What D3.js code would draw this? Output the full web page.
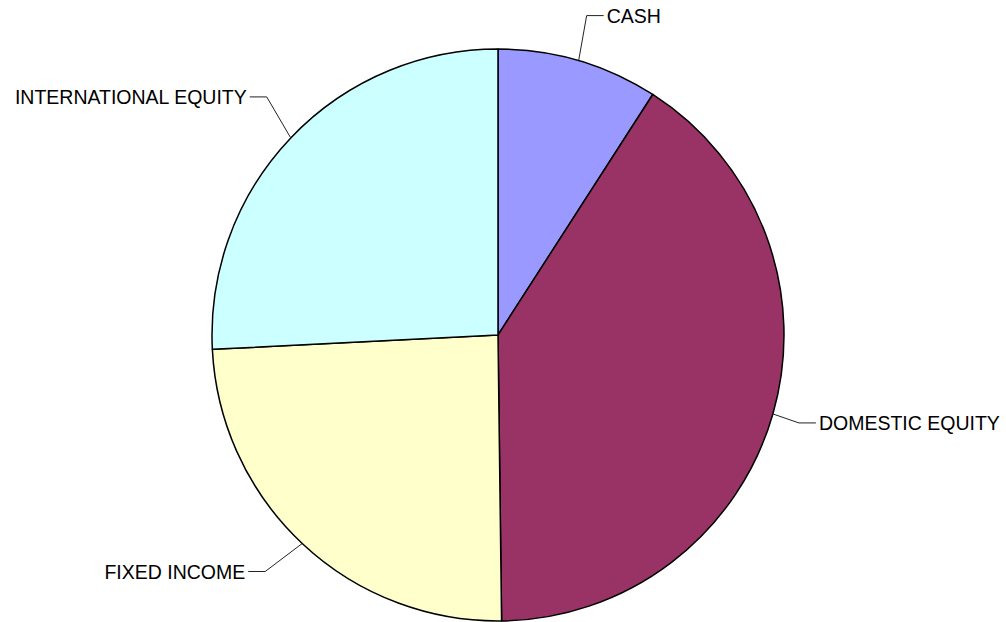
<!DOCTYPE html>
<html>
<head>
<meta charset="utf-8">
<script src="https://cdn.jsdelivr.net/npm/d3@7"></script>
<style>
  body { margin: 0; background: #fff; }
  text { font-family: "Liberation Sans", Arial, sans-serif; }
</style>
</head>
<body>
<div id="chart"></div>
<script>
// chart data (percent of total)
const categories = ["CASH", "DOMESTIC EQUITY", "FIXED INCOME", "INTERNATIONAL EQUITY"];
const values = [9.1, 40.7, 24.4, 25.8];
const colors = ["#9999FF", "#993366", "#FFFFCC", "#CCFFFF"];

const width = 1006;
const height = 622;
const cx = 498, cy = 335, radius = 286;

const svg = d3.select("#chart").append("svg").attr("width", width).attr("height", height);
const g = svg.append("g").attr("transform", `translate(${cx},${cy})`);

const pie = d3.pie().sort(null).value(d => d.value);
const arcs = pie(categories.map((c, i) => ({ name: c, value: values[i], color: colors[i] })));

const arc = d3.arc().innerRadius(0).outerRadius(radius);

//slices
g.selectAll("path.slice").data(arcs).enter().append("path")
  .attr("class", "slice")
  .attr("d", arc)
  .attr("fill", d => d.data.color)
  .attr("stroke", "#000")
  .attr("stroke-width", 1.5)
  .attr("stroke-linejoin", "round");

//leader lines + labels (elbow offset from the slice's mid point on the rim)
const elbowOffset = [[8, -45], [26, 9], [-37, 28], [-24, -41]];
arcs.forEach((d, i) => {
  const a = (d.startAngle + d.endAngle) / 2;
  const x0 = Math.sin(a) * radius, y0 = -Math.cos(a) * radius;
  const x1 = x0 + elbowOffset[i][0], y1 = y0 + elbowOffset[i][1];
  const right = x1 > 0;
  const x2 = x1 + (right ? 17 : -17);
  g.append("polyline")
    .attr("points", `${x0},${y0} ${x1},${y1} ${x2},${y1}`)
    .attr("fill", "none")
    .attr("stroke", "#222")
    .attr("stroke-width", 1);
  g.append("text")
    .attr("x", x2 + (right ? 3 : -3))
    .attr("y", y1)
    .attr("dy", "0.36em")
    .attr("text-anchor", right ? "start" : "end")
    .style("font-size", "19.5px")
    .attr("fill", "#000")
    .text(d.data.name);
});
</script>
</body>
</html>
